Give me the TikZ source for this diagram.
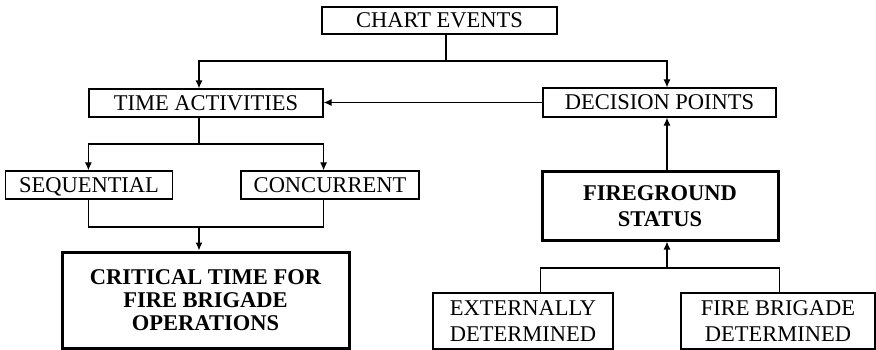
\documentclass[tikz,border=0pt]{standalone}
\usepackage{fontspec}
\setmainfont{Liberation Serif}
\usetikzlibrary{arrows.meta}

\tikzset{
  box/.style={draw,line width=1.2pt,inner sep=0pt,align=center,
    font=\fontsize{22.5}{26}\selectfont},
  bigbox/.style={box,line width=3pt,font=\fontsize{22.5}{23}\selectfont\bfseries},
  arr/.style={-{Latex[length=8pt,width=7pt]}},
}

\begin{document}
\begin{tikzpicture}[x=1pt,y=-1pt,line width=1.2pt]
  \useasboundingbox (0,0) rectangle (876,350);

  \node[box,minimum width=235pt,minimum height=27pt] (chart) at (439.5,20.5) {CHART EVENTS};
  \node[box,minimum width=234pt,minimum height=28pt] (time) at (206,103) {TIME ACTIVITIES};
  \node[box,minimum width=233pt,minimum height=29pt] (dec) at (659.5,102.5) {DECISION POINTS};
  \node[box,minimum width=167pt,minimum height=28pt,text depth=0pt] (seq) at (89,185) {SEQUENTIAL};
  \node[box,minimum width=178pt,minimum height=28pt] (conc) at (330,185) {CONCURRENT};
  \node[bigbox,minimum width=287pt,minimum height=96pt] (crit) at (205.5,300)
    {CRITICAL TIME FOR\\FIRE BRIGADE\\OPERATIONS};
  \node[bigbox,minimum width=236pt,minimum height=68pt,font=\fontsize{22.5}{26}\selectfont\bfseries] (fire) at (660,206)
    {FIREGROUND\\STATUS};
  \node[box,minimum width=180pt,minimum height=56pt] (ext) at (523,321) {EXTERNALLY\\DETERMINED};
  \node[box,minimum width=194pt,minimum height=56pt] (fbd) at (778,321) {FIRE BRIGADE\\DETERMINED};

  % top level
  \coordinate (top bus) at (446,61);
  \draw ([xshift=6.5pt]chart.south) -- (top bus);
  \draw[arr] (top bus) -| ([xshift=-7pt]time.north);
  \draw[arr] (top bus) -| ([xshift=7.5pt]dec.north);
  \draw[arr] (dec.west) -- (dec.west -| time.east);

  % left branch
  \coordinate (mid bus) at (199,144);
  \draw ([xshift=-7pt]time.south) -- (mid bus);
  \draw[arr] (mid bus) -| (time.west |- seq.north);
  \draw[arr] (mid bus) -| (time.east |- conc.north);
  \coordinate (low bus) at (199,227);
  \draw (time.west |- seq.south) |- (low bus) -| (time.east |- conc.south);
  \draw[arr] (low bus) -- (low bus |- crit.north);

  % right branch
  \draw[arr] ([xshift=7pt]fire.north) -- ([xshift=7pt]fire.north |- dec.south);
  \coordinate (fire bus) at (667,268);
  \draw (fire.west |- ext.north) |- (fire bus) -| (fire.east |- fbd.north);
  \draw[arr] (fire bus) -- (fire bus |- fire.south);
\end{tikzpicture}
\end{document}
